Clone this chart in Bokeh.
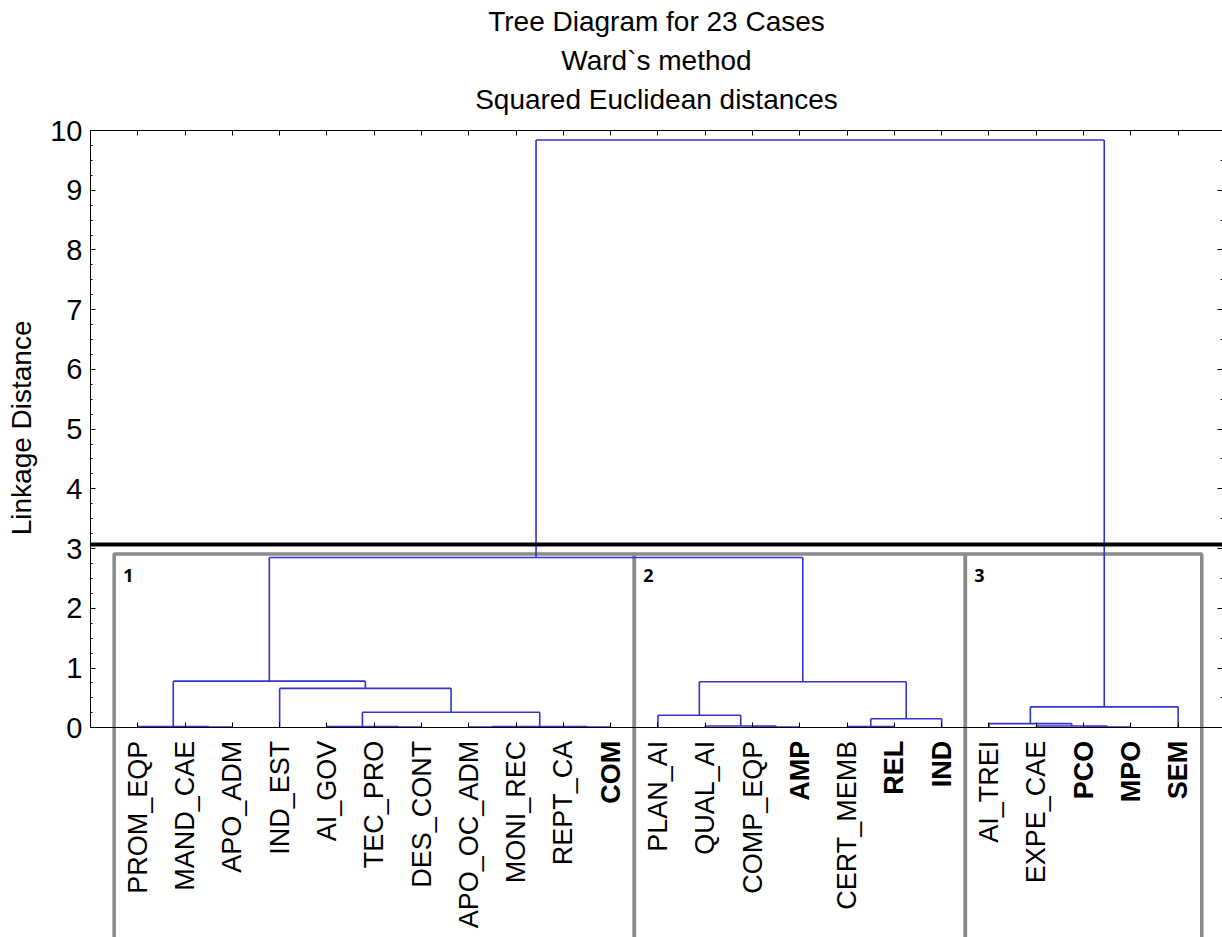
import numpy as np
from bokeh.plotting import figure
from bokeh.models import (Range1d, LinearAxis, FixedTicker, SingleIntervalTicker, Title,
                          Span, ColumnDataSource, CustomJSTickFormatter)
from bokeh.embed import file_html
from bokeh.resources import INLINE
from bokeh.core.properties import value

# ---------------- data ----------------
leaf_labels = ["PROM_EQP", "MAND_CAE", "APO_ADM", "IND_EST", "AI_GOV", "TEC_PRO",
               "DES_CONT", "APO_OC_ADM", "MONI_REC", "REPT_CA", "COM",
               "PLAN_AI", "QUAL_AI", "COMP_EQP", "AMP", "CERT_MEMB", "REL", "IND",
               "AI_TREI", "EXPE_CAE", "PCO", "MPO", "SEM"]
bold_labels = ["COM", "AMP", "REL", "IND", "PCO", "MPO", "SEM"]

# linkage table: nodes 0..22 are leaves, node 23+k is merge k
merge_left = [1, 0, 5, 4, 7, 9, 27, 26, 3, 24,
              13, 12, 11, 15, 36, 35, 32,
              20, 19, 18, 42, 39]
merge_right = [2, 23, 6, 25, 8, 10, 28, 29, 30, 31,
               14, 33, 34, 16, 17, 37, 38,
               21, 40, 41, 22, 43]
merge_height = [0.01, 0.02, 0.01, 0.02, 0.01, 0.01, 0.02, 0.26, 0.66, 0.78,
                0.01, 0.03, 0.21, 0.02, 0.15, 0.77, 2.85,
                0.01, 0.03, 0.07, 0.35, 9.84]

cut_level = 3.07
group_names = ["1", "2", "3"]
group_first = [1, 12, 19]
group_last = [11, 18, 23]

title_lines = ["Tree Diagram for 23 Cases", "Ward`s method", "Squared Euclidean distances"]
y_title = "Linkage Distance"

# ---------------- layout of the tree ----------------
n = len(leaf_labels)
node_x = [float(i + 1) for i in range(n)]
node_h = [0.0] * n
x0, y0, x1, y1 = [], [], [], []
for l, r, h in zip(merge_left, merge_right, merge_height):
    xl, xr = node_x[l], node_x[r]
    hl, hr = node_h[l], node_h[r]
    x0 += [xl, xl, xr]
    y0 += [h, hl, hr]
    x1 += [xr, xl, xr]
    y1 += [h, h, h]
    node_x.append((xl + xr) / 2.0)
    node_h.append(h)

FONT = "Liberation Sans"
W, H = 1222, 937
TOP = 129
LEFT = 89
PX_PER_UNIT = 59.8
y_bottom = 10 - (H - TOP) / PX_PER_UNIT
x_end = (W - LEFT) / 47.33

p = figure(width=W, height=H, x_range=Range1d(0, x_end), y_range=Range1d(y_bottom, 10),
           output_backend="svg", toolbar_location=None, title=None,
           min_border_left=LEFT, min_border_right=0, min_border_top=TOP, min_border_bottom=0,
           x_axis_location=None, y_axis_location=None)
p.outline_line_color = None
p.xgrid.visible = False
p.ygrid.visible = False
p.background_fill_color = "white"
p.border_fill_color = "white"

blank = CustomJSTickFormatter(code="return ''")
leaf_pos = list(range(1, n + 1))


def spacer(size):
    # an invisible axis used only to reserve space in a side panel
    return LinearAxis(ticker=FixedTicker(ticks=[0], minor_ticks=[]), formatter=blank,
                      major_label_standoff=0, major_label_text_font_size="0px",
                      major_tick_in=0, major_tick_out=size, minor_tick_in=0, minor_tick_out=0,
                      axis_line_color=None, major_tick_line_color=None,
                      minor_tick_line_color=None)


# left axis
yaxis = LinearAxis(bounds=(0, 10), ticker=SingleIntervalTicker(interval=1, num_minor_ticks=4))
yaxis.major_label_text_font = FONT
yaxis.major_label_text_font_size = "29px"
yaxis.major_label_text_color = "black"
yaxis.major_label_standoff = 8
yaxis.major_tick_in = 5
yaxis.major_tick_out = 0
yaxis.minor_tick_in = 2
yaxis.minor_tick_out = 0
yaxis.axis_line_color = "black"
yaxis.major_tick_line_color = "black"
yaxis.minor_tick_line_color = "black"
p.add_layout(yaxis, "left")
p.add_layout(spacer(8), "left")
# axis title, placed alongside the 0..10 part of the axis
p.add_layout(Title(text=y_title, align="right", offset=190, text_font=FONT,
                   text_font_size="28px", text_font_style="normal", text_color="black",
                   standoff=6), "left")

# right axis (ticks only)
raxis = LinearAxis(bounds=(0, 10), ticker=SingleIntervalTicker(interval=1, num_minor_ticks=2),
                   formatter=blank, major_label_standoff=0, major_label_text_font_size="0px",
                   major_tick_in=5, major_tick_out=0, minor_tick_in=2, minor_tick_out=0,
                   axis_line_color="black")
p.add_layout(raxis, "right")

# top axis (ticks only)
taxis = LinearAxis(ticker=FixedTicker(ticks=leaf_pos, minor_ticks=[]), formatter=blank,
                   major_label_standoff=0, major_label_text_font_size="0px",
                   major_tick_in=5, major_tick_out=0, minor_tick_in=0, minor_tick_out=0,
                   axis_line_color="black")
p.add_layout(taxis, "above")
p.add_layout(spacer(13), "above")

# bottom axis at zero
baxis = LinearAxis(fixed_location=0, ticker=FixedTicker(ticks=leaf_pos, minor_ticks=[]),
                   formatter=blank, major_label_standoff=0, major_label_text_font_size="0px",
                   major_tick_in=5, major_tick_out=0, minor_tick_in=0, minor_tick_out=0,
                   axis_line_color="black")
p.add_layout(baxis, "below")

# titles (added nearest-first)
for txt in reversed(title_lines):
    p.add_layout(Title(text=txt, align="center", text_font=FONT, text_font_size="28px",
                       text_font_style="normal", text_color="black", standoff=6), "above")

# cluster boxes
p.quad(left=[f - 0.5 for f in group_first], right=[l + 0.5 for l in group_last],
       top=2.91, bottom=y_bottom - 5, fill_color=None, line_color="#8A8A8A", line_width=3.5)

# cut line
p.add_layout(Span(location=cut_level, dimension="width", line_color="black", line_width=4))

# dendrogram links
p.segment(x0=x0, y0=y0, x1=x1, y1=y1, line_color="#3232CD", line_width=1.6)

# box numbers
p.text(x=[f - 0.5 for f in group_first], y=[2.91] * 3, text=group_names,
       x_offset=9, y_offset=28, text_font=value("Open Sans"), text_font_size="18px",
       text_font_style="bold", text_color="black", text_align="left", text_baseline="bottom")

# leaf labels
styles = ["bold" if s in bold_labels else "normal" for s in leaf_labels]
src = ColumnDataSource(dict(x=leaf_pos, y=[0] * n, text=leaf_labels, style=styles))
p.text(x="x", y="y", text="text", source=src, angle=np.pi / 2, y_offset=13,
       text_font=value(FONT), text_font_size="27px", text_font_style="style",
       text_color="black", text_align="right", text_baseline="middle")

open("out.html", "w").write(file_html(p, INLINE))
